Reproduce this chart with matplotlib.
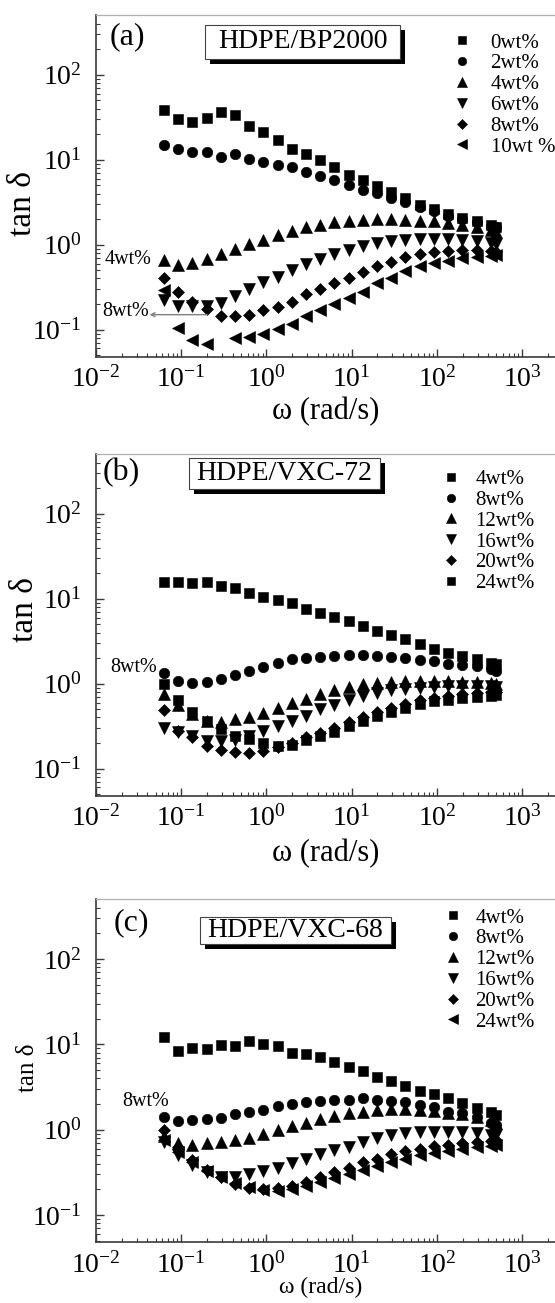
import numpy as np
import matplotlib
matplotlib.use('Agg')
import matplotlib.pyplot as plt
from matplotlib.patches import Rectangle

plt.rcParams['font.family'] = ['Liberation Serif', 'DejaVu Serif']
plt.rcParams['mathtext.fontset'] = 'stix'

nan = np.nan
# ---------------- data ----------------
omega = [0.0628, 0.0922, 0.135, 0.199, 0.292, 0.428, 0.628, 0.922, 1.35, 1.99,
         2.92, 4.28, 6.28, 9.22, 13.5, 19.9, 29.2, 42.8, 62.8, 92.2, 135, 199,
         292, 428, 500]

# (a) HDPE/BP2000
a_labels = ['0wt%', '2wt%', '4wt%', '6wt%', '8wt%', '10wt %']
a_0 = [38.7, 30, 28, 31, 36, 34, 24.6, 21.4, 16.9, 13.4, 11.7, 9.8, 8.2, 6.6, 5.8,
       4.95, 4.13, 3.54, 2.95, 2.65, 2.3, 2.06, 1.88, 1.69, 1.6]
a_2 = [14.7, 13.4, 12.2, 12.3, 10.9, 11.8, 10.3, 9.3, 8.65, 8.2, 7.1, 6.5, 5.8, 5.1,
       4.4, 4.06, 3.5, 3.15, 2.77, 2.47, 2.2, 2.0, 1.83, 1.67, 1.61]
a_4 = [0.667, 0.58, 0.61, 0.68, 0.77, 0.89, 1.02, 1.15, 1.29, 1.44, 1.6, 1.72, 1.83,
       1.92, 1.97, 2.0, 2.0, 1.97, 1.92, 1.88, 1.8, 1.7, 1.6, 1.5, 1.42]
a_6 = [0.225, 0.188, 0.19, 0.188, 0.206, 0.25, 0.3, 0.36, 0.42, 0.51, 0.59, 0.68,
       0.78, 0.87, 0.96, 1.05, 1.09, 1.15, 1.17, 1.18, 1.17, 1.15, 1.09, 1.05, 1.02]
a_8 = [0.4, 0.28, 0.21, 0.175, 0.145, 0.143, 0.148, 0.168, 0.187, 0.213, 0.26, 0.3,
       0.35, 0.405, 0.48, 0.56, 0.63, 0.71, 0.78, 0.82, 0.85, 0.86, 0.87, 0.85, 0.82]
a_10 = [0.296, 0.105, 0.076, 0.068, nan, 0.08, 0.082, 0.09, 0.102, 0.117, 0.144, 0.17,
        0.2, 0.236, 0.28, 0.35, 0.41, 0.485, 0.56, 0.61, 0.65, 0.70, 0.72, 0.73, 0.75]

# (b) HDPE/VXC-72
b_labels = ['4wt%', '8wt%', '12wt%', '16wt%', '20wt%', '24wt%']
b_4 = [15.8, 15.8, 15.4, 15.7, 14.3, 13.5, 11.8, 10.4, 9.6, 8.8, 7.5, 6.8, 6.1, 5.45,
       4.77, 4.16, 3.7, 3.32, 2.9, 2.58, 2.32, 2.11, 1.93, 1.77, 1.69]
b_8 = [1.35, 1.07, 1.01, 1.05, 1.15, 1.26, 1.41, 1.58, 1.77, 1.93, 2.02, 2.08, 2.1,
       2.15, 2.15, 2.1, 2.06, 2.0, 1.91, 1.83, 1.72, 1.64, 1.6, 1.5, 1.41]
b_12 = [0.76, 0.556, 0.435, 0.363, 0.354, 0.38, 0.405, 0.456, 0.52, 0.59, 0.66, 0.75,
        0.84, 0.92, 0.98, 1.02, 1.05, 1.07, 1.08, 1.08, 1.07, 1.06, 1.04, 1.02, 1.0]
b_16 = [0.30, 0.27, 0.24, 0.21, 0.21, 0.215, 0.24, 0.28, 0.317, 0.363, 0.417, 0.50,
        0.556, 0.64, 0.72, 0.78, 0.84, 0.87, 0.9, 0.92, 0.93, 0.94, 0.94, 0.93, 0.92]
b_20 = [0.49, 0.28, 0.235, 0.185, 0.165, 0.155, 0.152, 0.16, 0.18, 0.20, 0.235, 0.265,
        0.30, 0.35, 0.40, 0.46, 0.52, 0.58, 0.64, 0.68, 0.72, 0.75, 0.77, 0.79, 0.80]
b_24 = [1.0, 0.64, 0.46, 0.36, 0.29, 0.24, 0.225, 0.20, 0.185, 0.19, 0.215, 0.24,
        0.27, 0.32, 0.36, 0.42, 0.47, 0.52, 0.58, 0.62, 0.65, 0.68, 0.70, 0.72, 0.73]

# (c) HDPE/VXC-68
c_labels = ['4wt%', '8wt%', '12wt%', '16wt%', '20wt%', '24wt%']
c_4 = [12.3, 8.4, 8.97, 8.74, 9.8, 9.64, 10.9, 10.1, 9.55, 7.98, 7.7, 7.03, 6.25,
       5.37, 4.9, 4.17, 3.74, 3.27, 2.86, 2.61, 2.33, 2.03, 1.82, 1.6, 1.48]
c_8 = [1.42, 1.27, 1.29, 1.33, 1.39, 1.52, 1.62, 1.7, 1.89, 2.0, 2.09, 2.18, 2.22,
       2.26, 2.37, 2.26, 2.18, 2.13, 1.94, 1.86, 1.62, 1.55, 1.42, 1.19, 1.13]
c_12 = [0.85, 0.69, 0.67, 0.69, 0.71, 0.755, 0.81, 0.89, 0.99, 1.1, 1.2, 1.32, 1.44,
        1.55, 1.62, 1.7, 1.73, 1.74, 1.7, 1.65, 1.58, 1.51, 1.4, 1.3, 1.2]
c_16 = [0.72, 0.50, 0.385, 0.32, 0.28, 0.28, 0.307, 0.33, 0.36, 0.41, 0.46, 0.52,
        0.58, 0.63, 0.72, 0.79, 0.865, 0.92, 0.95, 0.95, 0.95, 0.93, 0.91, 0.865, 0.86]
c_20 = [0.99, 0.63, 0.44, 0.336, 0.28, 0.23, 0.21, 0.2, 0.205, 0.218, 0.245, 0.28,
        0.32, 0.36, 0.42, 0.46, 0.52, 0.56, 0.6, 0.64, 0.67, 0.69, 0.72, 0.74, 0.76]
c_24 = [0.75, 0.55, 0.42, 0.33, 0.28, 0.24, 0.215, 0.195, 0.19, 0.2, 0.22, 0.245,
        0.27, 0.3, 0.34, 0.38, 0.42, 0.46, 0.5, 0.54, 0.57, 0.6, 0.62, 0.64, 0.66]

# ---------------- layout ----------------
W, H = 555, 1303
fig = plt.figure(figsize=(W / 100, H / 100), dpi=100)


def fx(px):
    return px / W


def fy(py):
    return 1 - py / H


XL, XR = 96, 555
XLIM = (0.01, 2430)
YLIM = (0.048, 505)

MSTYLE = {'s': 6.6, 'o': 7.6, '^': 8.2, 'v': 8.2, 'D': 5.8, '<': 8.2}


def make_axes(top, bottom):
    ax = fig.add_axes([fx(XL), fy(bottom), (XR - XL) / W, (bottom - top) / H])
    ax.set_xscale('log')
    ax.set_yscale('log')
    ax.set_xlim(*XLIM)
    ax.set_ylim(*YLIM)
    ax.spines['right'].set_visible(False)
    ax.spines['top'].set_color('#b0b0b0')
    ax.spines['top'].set_linewidth(0.9)
    for s in ('left', 'bottom'):
        ax.spines[s].set_color('#3a3a3a')
        ax.spines[s].set_linewidth(1.2)
    ax.tick_params(which='both', direction='in', top=False, right=False,
                   color='#3a3a3a', labelsize=20)
    ax.tick_params(which='major', length=6, width=1.0)
    ax.tick_params(which='minor', length=3, width=0.8)
    ax.tick_params(axis='x', pad=7)
    ax.tick_params(axis='y', pad=10)
    return ax


def draw_series(ax, series, markers, labels):
    for vals, m, lab in zip(series, markers, labels):
        ax.plot(omega, vals, ls='none', marker=m, ms=MSTYLE[m], color='black',
                mec='black', mew=0.4, label=lab)


def title_box(x0, y0, x1, y1, text, fs):
    fig.add_artist(Rectangle((fx(x0 + 5), fy(y1 + 5)), (x1 - x0) / W, (y1 - y0) / H,
                             transform=fig.transFigure, facecolor='black',
                             edgecolor='none', zorder=5))
    fig.add_artist(Rectangle((fx(x0), fy(y1)), (x1 - x0) / W, (y1 - y0) / H,
                             transform=fig.transFigure, facecolor='white',
                             edgecolor='#444444', lw=0.8, zorder=6))
    fig.text(fx((x0 + x1) / 2), fy((y0 + y1) / 2), text, fontsize=fs, ha='center',
             va='center', zorder=7)


def legend(ax, ax_x, ax_y, pad):
    ax.legend(loc='upper left', bbox_to_anchor=(fx(ax_x), fy(ax_y)),
              bbox_transform=fig.transFigure, frameon=False, fontsize=15,
              handlelength=1.0, handletextpad=pad, labelspacing=0.06,
              borderpad=0, borderaxespad=0, markerscale=0.8)


# ---------- panel (a) ----------
axa = make_axes(15, 356.7)
draw_series(axa, [a_0, a_2, a_4, a_6, a_8, a_10], ['s', 'o', '^', 'v', 'D', '<'], a_labels)
legend(axa, 452, 33, 0.85)
axa.set_xlabel(r'ω (rad/s)', fontsize=22)
axa.xaxis.set_label_coords((326 - XL) / (XR - XL), 1 - (397 - 15) / 341.7)
axa.set_ylabel('tan δ', fontsize=24)
axa.yaxis.set_label_coords((38 - XL) / (XR - XL), 1 - (203 - 15) / 341.7)
title_box(205, 25, 400, 59, 'HDPE/BP2000', 20)
fig.text(fx(110), fy(37), '(a)', fontsize=23, ha='left', va='center')
fig.text(fx(105), fy(260), '4wt%', fontsize=14.5, ha='left', va='center')
fig.text(fx(102), fy(312), '8wt%', fontsize=14.5, ha='left', va='center')
axa.annotate('', xy=(0.0425, 0.15), xytext=(0.202, 0.15),
             arrowprops=dict(arrowstyle='->', color='#808080', lw=1.0,
                             shrinkA=0, shrinkB=0, mutation_scale=7))

# ---------- panel (b) ----------
axb = make_axes(454, 795.7)
draw_series(axb, [b_4, b_8, b_12, b_16, b_20, b_24], ['s', 'o', '^', 'v', 'D', 's'], b_labels)
legend(axb, 441, 469.5, 0.65)
axb.set_xlabel(r'ω (rad/s)', fontsize=22)
axb.xaxis.set_label_coords((326 - XL) / (XR - XL), 1 - (839 - 454) / 341.7)
axb.set_ylabel('tan δ', fontsize=24)
axb.yaxis.set_label_coords((40 - XL) / (XR - XL), 1 - (609 - 454) / 341.7)
title_box(189, 458, 380, 489, 'HDPE/VXC-72', 20)
fig.text(fx(103), fy(473), '(b)', fontsize=23, ha='left', va='center')
fig.text(fx(110), fy(667), '8wt%', fontsize=14.5, ha='left', va='center')

# ---------- panel (c) ----------
axc = make_axes(899, 1242.3)
draw_series(axc, [c_4, c_8, c_12, c_16, c_20, c_24], ['s', 'o', '^', 'v', 'D', '<'], c_labels)
legend(axc, 443, 908, 0.55)
axc.set_xlabel(r'ω (rad/s)', fontsize=17)
axc.xaxis.set_label_coords((321 - XL) / (XR - XL), 1 - (1277 - 899) / 343.3)
axc.set_ylabel('tan δ', fontsize=18)
axc.yaxis.set_label_coords((39 - XL) / (XR - XL), 1 - (1068 - 899) / 343.3)
title_box(200, 917, 391, 944, 'HDPE/VXC-68', 20)
fig.text(fx(114), fy(923), '(c)', fontsize=23, ha='left', va='center')
fig.text(fx(122), fy(1102), '8wt%', fontsize=14.5, ha='left', va='center')

fig.savefig('out.png', dpi=100)
